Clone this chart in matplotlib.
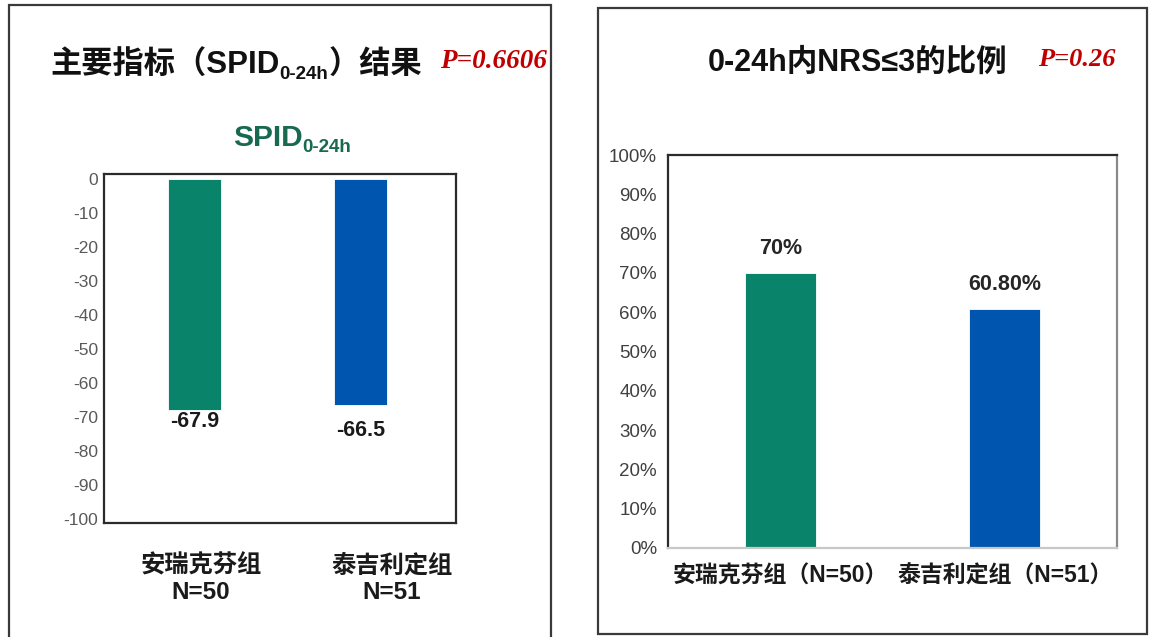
import matplotlib
matplotlib.use("Agg")
import matplotlib.pyplot as plt
from matplotlib.patches import Rectangle
from matplotlib.ticker import FuncFormatter

plt.rcParams["font.family"] = ["Liberation Sans", "Noto Sans CJK SC", "DejaVu Sans"]
plt.rcParams["axes.unicode_minus"] = False

# ---- data ----
spid_groups = ["安瑞克芬组\nN=50", "泰吉利定组\nN=51"]
spid_values = [-67.9, -66.5]
spid_ticks = list(range(0, -101, -10))

nrs_groups = ["安瑞克芬组（N=50）", "泰吉利定组（N=51）"]
nrs_values = [0.70, 0.608]
nrs_labels = ["70%", "60.80%"]
nrs_ticks = [i / 10 for i in range(11)]

p_spid = "P=0.6606"
p_nrs = "P=0.26"

bar_colors = ["#09836A", "#0055AE"]
p_color = "#C00000"
W, H = 1154, 637

fig = plt.figure(figsize=(W / 100, H / 100), dpi=100)
renderer = fig.canvas.get_renderer()


def fx(x):
    return x / W


def fy(y):
    return 1 - y / H


def chain(pieces, x, y):
    """Write text pieces one after another on a shared baseline (pixel coords)."""
    for s, dy, kw in pieces:
        t = fig.text(fx(x), fy(y + dy), s, ha="left", va="baseline", **kw)
        x += t.get_window_extent(renderer).width


# panel frames
fig.patches.append(Rectangle((fx(9), fy(645)), fx(551) - fx(9), fy(5) - fy(645),
                             transform=fig.transFigure, fill=False, lw=1.6,
                             ec="#3a3a3a", zorder=0))
fig.patches.append(Rectangle((fx(598), fy(634)), fx(1147) - fx(598), fy(8) - fy(634),
                             transform=fig.transFigure, fill=False, lw=1.6,
                             ec="#3a3a3a", zorder=0))

# ---- left panel: SPID 0-24h ----
ax1 = fig.add_axes([fx(104), fy(523), fx(456) - fx(104), fy(174) - fy(523)])
x1 = range(len(spid_values))
ax1.bar(x1, spid_values, width=0.32, color=bar_colors, edgecolor="white", lw=0.6)
ax1.set_xlim(-0.545, 1.575)
ax1.set_ylim(-101.2, 1.5)
ax1.set_yticks(spid_ticks)
ax1.set_xticks([])
ax1.tick_params(axis="y", length=0, labelsize=12.5, labelcolor="#595959", pad=4)
for sp in ax1.spines.values():
    sp.set_linewidth(1.6)
    sp.set_color("#2b2b2b")
for xi, v, off in zip(x1, spid_values, [-3.5, -7.5]):
    ax1.text(xi, v + off, f"{v}", ha="center", va="center", fontsize=15.5,
             fontweight="bold", color="#1a1a1a")

for label, cx in zip(spid_groups, [201, 392]):
    fig.text(fx(cx), fy(579), label, ha="center", va="center", fontsize=17.5,
             fontweight="bold", color="#1a1a1a", linespacing=1.2)

chain([("主要指标（SPID", 0, dict(fontsize=22.5, fontweight="bold", color="#111111")),
       ("0-24h", 5, dict(fontsize=13.5, fontweight="bold", color="#111111")),
       ("）结果", 0, dict(fontsize=22.5, fontweight="bold", color="#111111"))], 50, 74)
fig.text(fx(440), fy(68), p_spid, ha="left", va="baseline", fontsize=19.5,
         fontweight="bold", fontstyle="italic", family="Liberation Serif",
         color=p_color)
chain([("SPID", 0, dict(fontsize=21.5, fontweight="bold", color="#17694F")),
       ("0-24h", 6, dict(fontsize=13.5, fontweight="bold", color="#17694F"))], 233, 146)

# ---- right panel: share with NRS <= 3 ----
ax2 = fig.add_axes([fx(668), fy(548), fx(1117) - fx(668), fy(155) - fy(548)])
x2 = range(len(nrs_values))
ax2.bar(x2, nrs_values, width=0.316, color=bar_colors, edgecolor="white", lw=0.6)
ax2.set_xlim(-0.5, 1.5)
ax2.set_ylim(0, 1.0)
ax2.set_yticks(nrs_ticks)
ax2.yaxis.set_major_formatter(FuncFormatter(lambda v, _: f"{v * 100:.0f}%"))
ax2.tick_params(axis="y", length=0, labelsize=13.5, labelcolor="#404040", pad=8)
ax2.set_xticks(list(x2))
ax2.set_xticklabels(nrs_groups, fontsize=16.5, fontweight="bold", color="#1a1a1a")
ax2.tick_params(axis="x", length=0, pad=12)
for sp in ax2.spines.values():
    sp.set_linewidth(1.6)
    sp.set_color("#2b2b2b")
ax2.spines["bottom"].set_color("#c8c8c8")
ax2.spines["right"].set_color("#8a8a8a")
for xi, v, s in zip(x2, nrs_values, nrs_labels):
    ax2.text(xi, v + 0.062, s, ha="center", va="center", fontsize=15.5,
             fontweight="bold", color="#262626")

fig.text(fx(708), fy(71), "0-24h内NRS≤3的比例", ha="left", va="baseline",
         fontsize=22, fontweight="bold", color="#111111")
fig.text(fx(1038), fy(66), p_nrs, ha="left", va="baseline", fontsize=19,
         fontweight="bold", fontstyle="italic", family="Liberation Serif",
         color=p_color)

fig.savefig("out.png", dpi=100, facecolor="white")
